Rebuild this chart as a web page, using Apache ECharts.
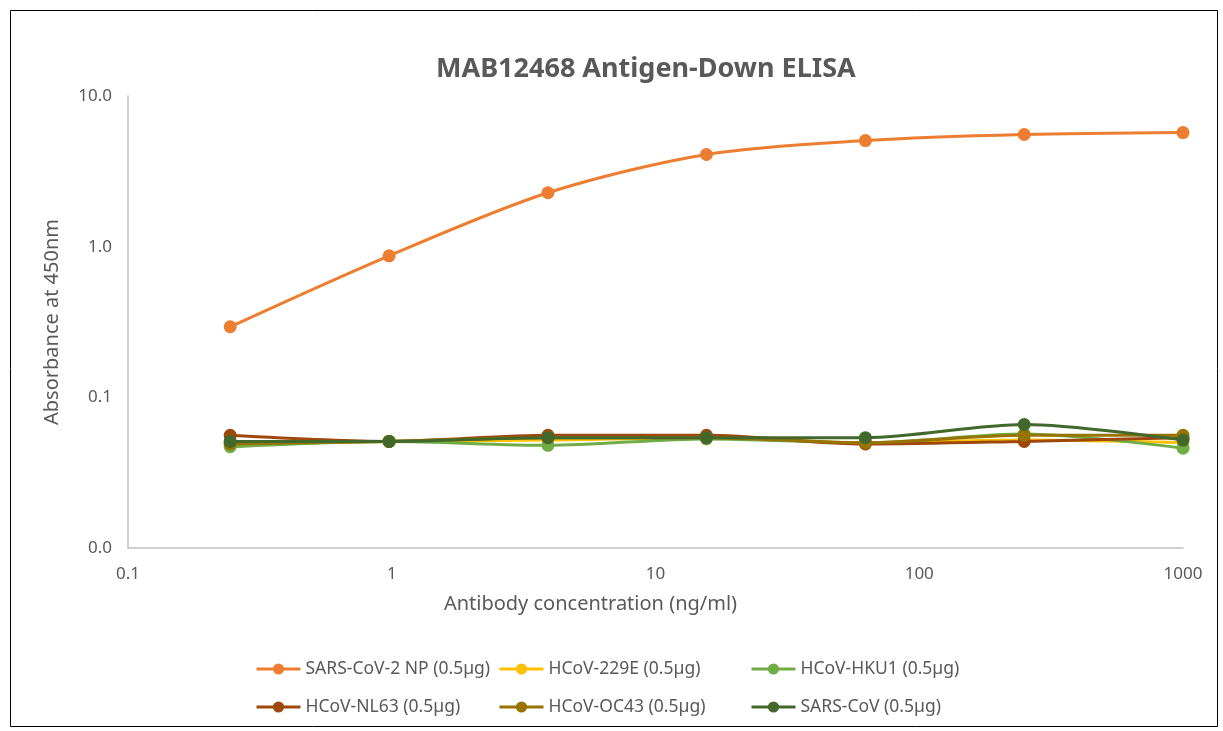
<!DOCTYPE html>
<html>
<head>
<meta charset="utf-8">
<script src="https://cdn.jsdelivr.net/npm/echarts@6/dist/echarts.min.js"></script>
<style>
  html, body { margin: 0; padding: 0; background: #fff; }
  #main { width: 1223px; height: 731px; }
</style>
</head>
<body>
<div id="main"></div>
<script>
// antibody dilutions (ng/ml), 4-fold from 1000
var concentrations = [0.244, 0.977, 3.91, 15.6, 62.5, 250, 1000];

var seriesNames = [
    'SARS-CoV-2 NP (0.5µg)', 'HCoV-229E (0.5µg)', 'HCoV-HKU1 (0.5µg)',
    'HCoV-NL63 (0.5µg)', 'HCoV-OC43 (0.5µg)', 'SARS-CoV (0.5µg)'
];
var sarsCov2NP = [0.294, 0.87, 2.28, 4.09, 5.06, 5.55, 5.72];
var hcov229E   = [0.049, 0.051, 0.052, 0.054, 0.050, 0.052, 0.050];
var hcovHKU1   = [0.047, 0.051, 0.048, 0.053, 0.050, 0.057, 0.046];
var hcovNL63   = [0.056, 0.051, 0.056, 0.056, 0.049, 0.051, 0.054];
var hcovOC43   = [0.049, 0.051, 0.054, 0.054, 0.050, 0.056, 0.056];
var sarsCov    = [0.051, 0.051, 0.054, 0.054, 0.054, 0.066, 0.052];

var xTickLabels = ['0.1', '1', '10', '100', '1000'];
var yTickLabels = ['0.0', '0.1', '1.0', '10.0'];

var colors = ['#ED7D31', '#FFC000', '#70AD47', '#9E480E', '#997300', '#43682B'];
var allValues = [sarsCov2NP, hcov229E, hcovHKU1, hcovNL63, hcovOC43, sarsCov];

var textColor = '#595959';
var fontFam = 'Noto Sans, sans-serif';

var myChart = echarts.init(document.getElementById('main'));

var series = allValues.map(function (vals, i) {
    return {
        name: seriesNames[i],
        type: 'line',
        smooth: 0.3,
        symbol: 'circle',
        symbolSize: 13,
        data: vals.map(function (v, j) { return [concentrations[j], v]; }),
        itemStyle: { color: colors[i] },
        lineStyle: { color: colors[i], width: 3 },
        z: i === 5 ? 8 : 2 + i
    };
});

function legendCol(names, left) {
    return {
        data: names,
        orient: 'vertical',
        left: left,
        top: 655,
        itemGap: 20,
        itemWidth: 44,
        itemHeight: 14,
        lineStyle: { width: 3 },
        textStyle: { color: textColor, fontSize: 17.5, fontFamily: fontFam }
    };
}

var option = {
    backgroundColor: '#fff',
    animation: false,
    title: {
        text: 'MAB12468 Antigen-Down ELISA',
        left: 431,
        top: 51,
        textStyle: { color: textColor, fontSize: 27, fontWeight: 'bold', fontFamily: fontFam }
    },
    graphic: [{
        type: 'rect',
        shape: { x: 10.5, y: 10.5, width: 1207, height: 716 },
        style: { fill: 'none', stroke: '#000', lineWidth: 1 },
        silent: true
    }],
    legend: [
        legendCol([seriesNames[0], seriesNames[3]], 250),
        legendCol([seriesNames[1], seriesNames[4]], 493),
        legendCol([seriesNames[2], seriesNames[5]], 745)
    ],
    grid: { left: 128, right: 40, top: 96, bottom: 183 },
    xAxis: {
        type: 'log',
        logBase: 10,
        min: 0.1,
        max: 1000,
        name: 'Antibody concentration (ng/ml)',
        nameLocation: 'middle',
        nameGap: 46,
        nameTextStyle: { color: textColor, fontSize: 20, fontFamily: fontFam, padding: [0, 130, 0, 0] },
        axisLine: { lineStyle: { color: '#BFBFBF', width: 1.5 } },
        axisTick: { show: false },
        splitLine: { show: false },
        axisLabel: {
            color: textColor, fontSize: 17, fontFamily: fontFam, margin: 18,
            formatter: function (v) {
                var k = Math.round(Math.log10(v)) + 1;
                return xTickLabels[k] !== undefined ? xTickLabels[k] : '';
            }
        }
    },
    yAxis: {
        type: 'log',
        logBase: 10,
        min: 0.01,
        max: 10,
        name: 'Absorbance at 450nm',
        nameLocation: 'middle',
        nameGap: 66,
        nameTextStyle: { color: textColor, fontSize: 20, fontFamily: fontFam },
        axisLine: { show: true, lineStyle: { color: '#BFBFBF', width: 1.5 } },
        axisTick: { show: false },
        splitLine: { show: false },
        axisLabel: {
            color: textColor, fontSize: 17, fontFamily: fontFam, margin: 16,
            formatter: function (v) {
                var k = Math.round(Math.log10(v)) + 2;
                return yTickLabels[k] !== undefined ? yTickLabels[k] : '';
            }
        }
    },
    series: series
};

myChart.setOption(option);
</script>
</body>
</html>
